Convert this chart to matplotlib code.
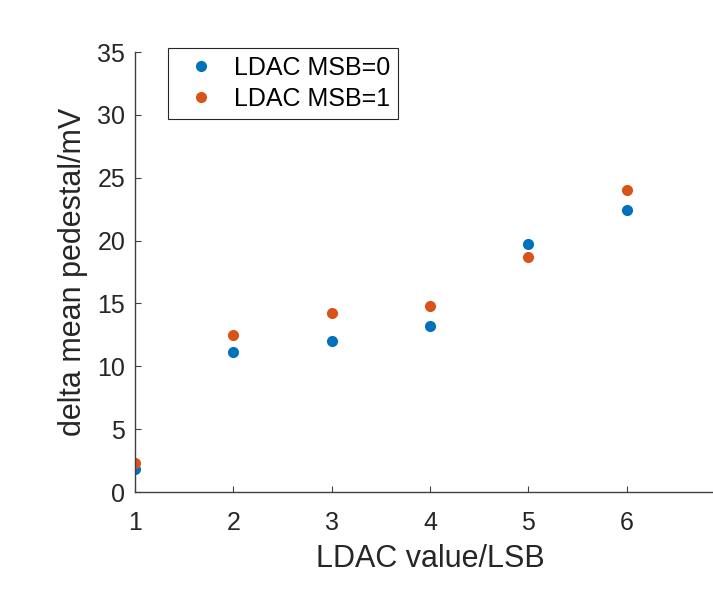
import matplotlib.pyplot as plt

plt.rcParams['font.family'] = ['Liberation Sans', 'DejaVu Sans']

ldac = [1, 2, 3, 4, 5, 6]
msb0 = [1.8, 11.1, 12.0, 13.2, 19.7, 22.4]
msb1 = [2.3, 12.5, 14.2, 14.8, 18.7, 24.0]

fig = plt.figure(figsize=(7.13, 6.04), dpi=100)
# axes run off the right edge like the original screenshot (x goes to 7)
ax = fig.add_axes([135/713, 112/604, 590/713, 440/604])

ax.plot(ldac, msb0, 'o', color='#0072BD', markersize=7, label='LDAC MSB=0')
ax.plot(ldac, msb1, 'o', color='#D95319', markersize=7, label='LDAC MSB=1')

ax.set_xlim(1, 7)
ax.set_ylim(0, 35)
ax.set_xticks(ldac)
ax.set_yticks(range(0, 36, 5))

for s in ['top', 'right']:
    ax.spines[s].set_visible(False)
for s in ['left', 'bottom']:
    ax.spines[s].set_color('#404040')
    ax.spines[s].set_linewidth(1.0)
ax.tick_params(direction='in', length=4, colors='#404040', labelsize=18,
               labelcolor='#262626')
ax.tick_params(axis='x', pad=14)
ax.tick_params(axis='y', pad=7)

ax.set_xlabel('LDAC value/LSB', fontsize=22, color='#262626', labelpad=6)
ax.set_ylabel('delta mean pedestal/mV', fontsize=22, color='#262626', labelpad=6.5)

leg = ax.legend(loc='upper left', bbox_to_anchor=(0.056, 1.009), borderaxespad=0,
                fontsize=18, frameon=True, fancybox=False, edgecolor='#262626',
                handlelength=2.0, handletextpad=0.35, borderpad=0.3,
                labelspacing=0.3, framealpha=1)
leg.get_frame().set_linewidth(0.8)

fig.savefig('out.png', dpi=100)
